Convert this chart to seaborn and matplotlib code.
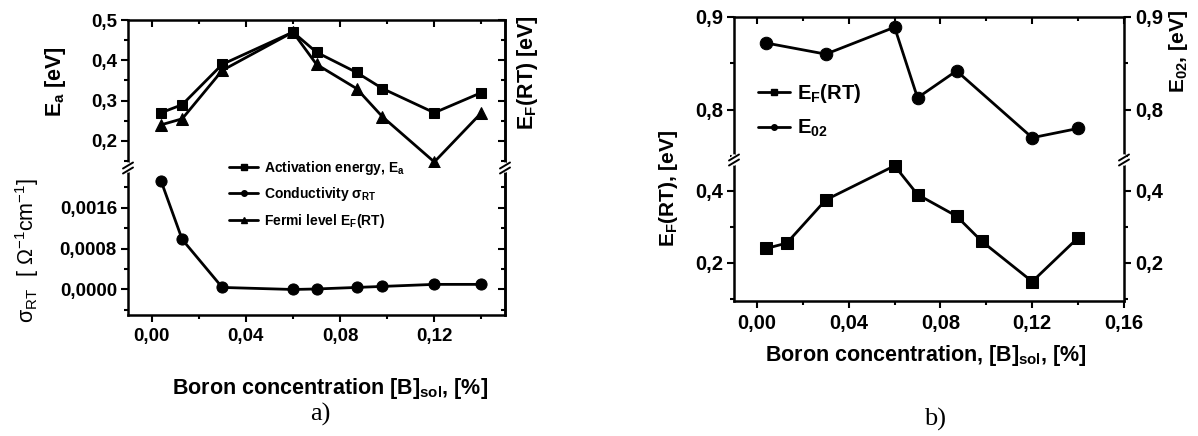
import matplotlib
matplotlib.use("Agg")
import matplotlib.pyplot as plt
import seaborn as sns
from matplotlib.ticker import FuncFormatter, MultipleLocator
from matplotlib.lines import Line2D

# ---------------- data ----------------
boron = [0.004, 0.013, 0.03, 0.06, 0.07, 0.087, 0.098, 0.12, 0.14]
act_energy = [0.27, 0.29, 0.39, 0.47, 0.42, 0.37, 0.33, 0.27, 0.32]
fermi_level = [0.24, 0.255, 0.375, 0.47, 0.39, 0.33, 0.26, 0.148, 0.27]
conductivity = [0.00213, 0.00098, 0.00004, 0.0, 0.00001, 0.00004, 0.00006, 0.0001, 0.0001]
boron_e02 = [0.004, 0.03, 0.06, 0.07, 0.087, 0.12, 0.14]
e02 = [0.872, 0.86, 0.889, 0.813, 0.842, 0.77, 0.78]

legend_a = ["Activation energy, E$_a$", "Conductivity $\\sigma_{RT}$", "Fermi level E$_F$(RT)"]
legend_b = ["E$_F$(RT)", "E$_{02}$"]

# ---------------- style ----------------
sns.set_style("ticks")
plt.rcParams["font.family"] = ["Liberation Sans", "DejaVu Sans"]
plt.rcParams["font.weight"] = "bold"
plt.rcParams["mathtext.default"] = "regular"
plt.rcParams["axes.linewidth"] = 1.8
plt.rcParams["axes.edgecolor"] = "black"
plt.rcParams["xtick.color"] = "black"
plt.rcParams["ytick.color"] = "black"
plt.rcParams["text.color"] = "black"

W, H = 1198, 436
fig = plt.figure(figsize=(W / 100, H / 100), dpi=100)


def frac(x0, y_top, x1, y_bot):
    return [x0 / W, 1 - y_bot / H, (x1 - x0) / W, (y_bot - y_top) / H]


axA_top = fig.add_axes(frac(128, 20, 505, 168))
axA_bot = fig.add_axes(frac(128, 168, 505, 315))
axB_top = fig.add_axes(frac(734, 17, 1124, 160))
axB_bot = fig.add_axes(frac(734, 160, 1124, 301))

lk = dict(color="black", linewidth=2, markeredgecolor="black", legend=False)
sns.lineplot(x=boron, y=act_energy, marker="s", markersize=7.5, ax=axA_top, **lk)
sns.lineplot(x=boron, y=fermi_level, marker="^", markersize=8.5, ax=axA_top, **lk)
sns.lineplot(x=boron, y=conductivity, marker="o", markersize=8, ax=axA_bot, **lk)
sns.lineplot(x=boron_e02, y=e02, marker="o", markersize=9, ax=axB_top, **lk)
sns.lineplot(x=boron, y=fermi_level, marker="s", markersize=8.5, ax=axB_bot, **lk)


def fmt(dec):
    def f(v, p):
        if abs(v) < 1e-12:
            v = 0.0
        return f"{v:.{dec}f}".replace(".", ",")
    return FuncFormatter(f)


TS_A = 13.5
TS_B = 14.5

# ---- panel a, upper ----
ax = axA_top
ax.set_xlim(-0.01, 0.15)
ax.set_ylim(0.133, 0.5)
ax.xaxis.set_major_locator(MultipleLocator(0.04))
ax.xaxis.set_minor_locator(MultipleLocator(0.02))
ax.yaxis.set_major_locator(MultipleLocator(0.1))
ax.yaxis.set_minor_locator(MultipleLocator(0.05))
ax.yaxis.set_major_formatter(fmt(1))
ax.spines["bottom"].set_visible(False)
ax.tick_params(axis="x", which="both", direction="in", top=True, bottom=False,
               labelbottom=False, labeltop=False, width=1.5)
ax.tick_params(axis="x", which="major", length=5)
ax.tick_params(axis="x", which="minor", length=3)

# ---- panel a, lower ----
ax = axA_bot
ax.set_xlim(-0.01, 0.15)
ax.set_ylim(-0.0005, 0.00238)
ax.xaxis.set_major_locator(MultipleLocator(0.04))
ax.xaxis.set_minor_locator(MultipleLocator(0.02))
ax.xaxis.set_major_formatter(fmt(2))
ax.yaxis.set_major_locator(MultipleLocator(0.0008))
ax.yaxis.set_minor_locator(MultipleLocator(0.0004))
ax.yaxis.set_major_formatter(fmt(4))
ax.spines["top"].set_visible(False)
ax.tick_params(axis="x", which="both", direction="out", top=False, bottom=True, width=1.5)
ax.tick_params(axis="x", which="major", length=5, labelsize=TS_A, pad=4)
ax.tick_params(axis="x", which="minor", length=3)

for ax, major, minor in ((axA_top, 0.1, 0.05), (axA_bot, 0.0008, 0.0004)):
    ax.tick_params(axis="y", which="both", direction="out", left=True, right=False, width=1.5)
    ax.tick_params(axis="y", which="major", length=5, labelsize=TS_A, pad=3)
    ax.tick_params(axis="y", which="minor", length=3)
    sec = ax.secondary_yaxis("right")
    sec.yaxis.set_major_locator(MultipleLocator(major))
    sec.yaxis.set_minor_locator(MultipleLocator(minor))
    sec.tick_params(axis="y", which="both", direction="in", labelright=False, width=1.5)
    sec.tick_params(axis="y", which="major", length=5)
    sec.tick_params(axis="y", which="minor", length=3)
    sec.spines["right"].set_linewidth(1.8)
    ax.set_ylabel("")
    ax.set_xlabel("")

# ---- panel b ----
for ax in (axB_top, axB_bot):
    ax.set_xlim(-0.01, 0.16)
    ax.xaxis.set_major_locator(MultipleLocator(0.04))
    ax.xaxis.set_minor_locator(MultipleLocator(0.02))
    ax.xaxis.set_major_formatter(fmt(2))
    ax.yaxis.set_major_formatter(fmt(1))
    ax.tick_params(axis="y", which="both", direction="out", left=True, right=True,
                   labelleft=True, labelright=True, width=1.5)
    ax.tick_params(axis="y", which="major", length=5, labelsize=TS_B, pad=3)
    ax.tick_params(axis="y", which="minor", length=3)
    ax.set_ylabel("")
    ax.set_xlabel("")

ax = axB_top
ax.set_ylim(0.746, 0.9)
ax.yaxis.set_major_locator(MultipleLocator(0.1))
ax.yaxis.set_minor_locator(MultipleLocator(0.05))
ax.spines["bottom"].set_visible(False)
ax.tick_params(axis="x", which="both", direction="in", top=True, bottom=False,
               labelbottom=False, width=1.5)
ax.tick_params(axis="x", which="major", length=5)
ax.tick_params(axis="x", which="minor", length=3)

ax = axB_bot
ax.set_ylim(0.094, 0.486)
ax.yaxis.set_major_locator(MultipleLocator(0.2))
ax.yaxis.set_minor_locator(MultipleLocator(0.1))
ax.spines["top"].set_visible(False)
ax.tick_params(axis="x", which="both", direction="out", top=False, bottom=True, width=1.5)
ax.tick_params(axis="x", which="major", length=5, labelsize=TS_B, pad=4)
ax.tick_params(axis="x", which="minor", length=3)


# ---- axis break marks ----
def break_mark(xp, yp):
    fx = lambda v: v / W
    fy = lambda v: 1 - v / H
    fig.add_artist(Line2D([fx(xp), fx(xp)], [fy(yp - 2.5), fy(yp + 2.5)],
                          color="white", linewidth=4, transform=fig.transFigure, zorder=10))
    for dy in (-2.5, 2.5):
        fig.add_artist(Line2D([fx(xp - 5), fx(xp + 5)], [fy(yp + dy + 3), fy(yp + dy - 3)],
                              color="black", linewidth=1.4, transform=fig.transFigure, zorder=11))


break_mark(128, 168)
break_mark(505, 168)
break_mark(734, 160)
break_mark(1124, 160)

# ---- legends ----
ha = [Line2D([], [], color="black", lw=2, marker="s", markersize=4),
      Line2D([], [], color="black", lw=2, marker="o", markersize=4),
      Line2D([], [], color="black", lw=2, marker="^", markersize=4)]
fig.legend(ha, legend_a, loc="upper left", bbox_to_anchor=(229 / W, 1 - 159 / H),
           frameon=False, fontsize=10, handlelength=2.1, handletextpad=0.45,
           labelspacing=0.6, borderpad=0, borderaxespad=0)

hb = [Line2D([], [], color="black", lw=2, marker="s", markersize=4),
      Line2D([], [], color="black", lw=2, marker="o", markersize=4)]
fig.legend(hb, legend_b, loc="upper left", bbox_to_anchor=(758 / W, 1 - 82 / H),
           frameon=False, fontsize=14.5, handlelength=1.6, handletextpad=0.35,
           labelspacing=0.65, borderpad=0, borderaxespad=0)

# ---- axis titles ----
fig.text(55 / W, 1 - 82 / H, "E$_a$ [eV]", rotation=90, ha="center", va="center",
         fontsize=15.5, fontweight="bold")
fig.text(27 / W, 1 - 250 / H, r"$\sigma_{RT}$  [ $\Omega^{-1}$cm$^{-1}$]", rotation=90,
         ha="center", va="center", fontsize=15.5, fontweight="normal")
fig.text(527 / W, 1 - 73 / H, "E$_F$(RT) [eV]", rotation=90, ha="center", va="center",
         fontsize=15.5, fontweight="bold")
fig.text(330 / W, 1 - 388 / H, "Boron concentration [B]$_{sol}$, [%]", ha="center",
         va="center", fontsize=15.5, fontweight="bold")
fig.text(320 / W, 1 - 414 / H, "a)", ha="center", va="center", fontsize=19,
         fontweight="normal", family="Liberation Serif")

fig.text(668 / W, 1 - 188 / H, "E$_F$(RT), [eV]", rotation=90, ha="center", va="center",
         fontsize=15, fontweight="bold")
fig.text(1178 / W, 1 - 52 / H, "E$_{02}$, [eV]", rotation=90, ha="center", va="center",
         fontsize=15, fontweight="bold")
fig.text(926 / W, 1 - 355 / H, "Boron concentration, [B]$_{sol}$, [%]", ha="center",
         va="center", fontsize=15.5, fontweight="bold")
fig.text(935 / W, 1 - 419 / H, "b)", ha="center", va="center", fontsize=19,
         fontweight="normal", family="Liberation Serif")

fig.savefig("out.png", dpi=100)
